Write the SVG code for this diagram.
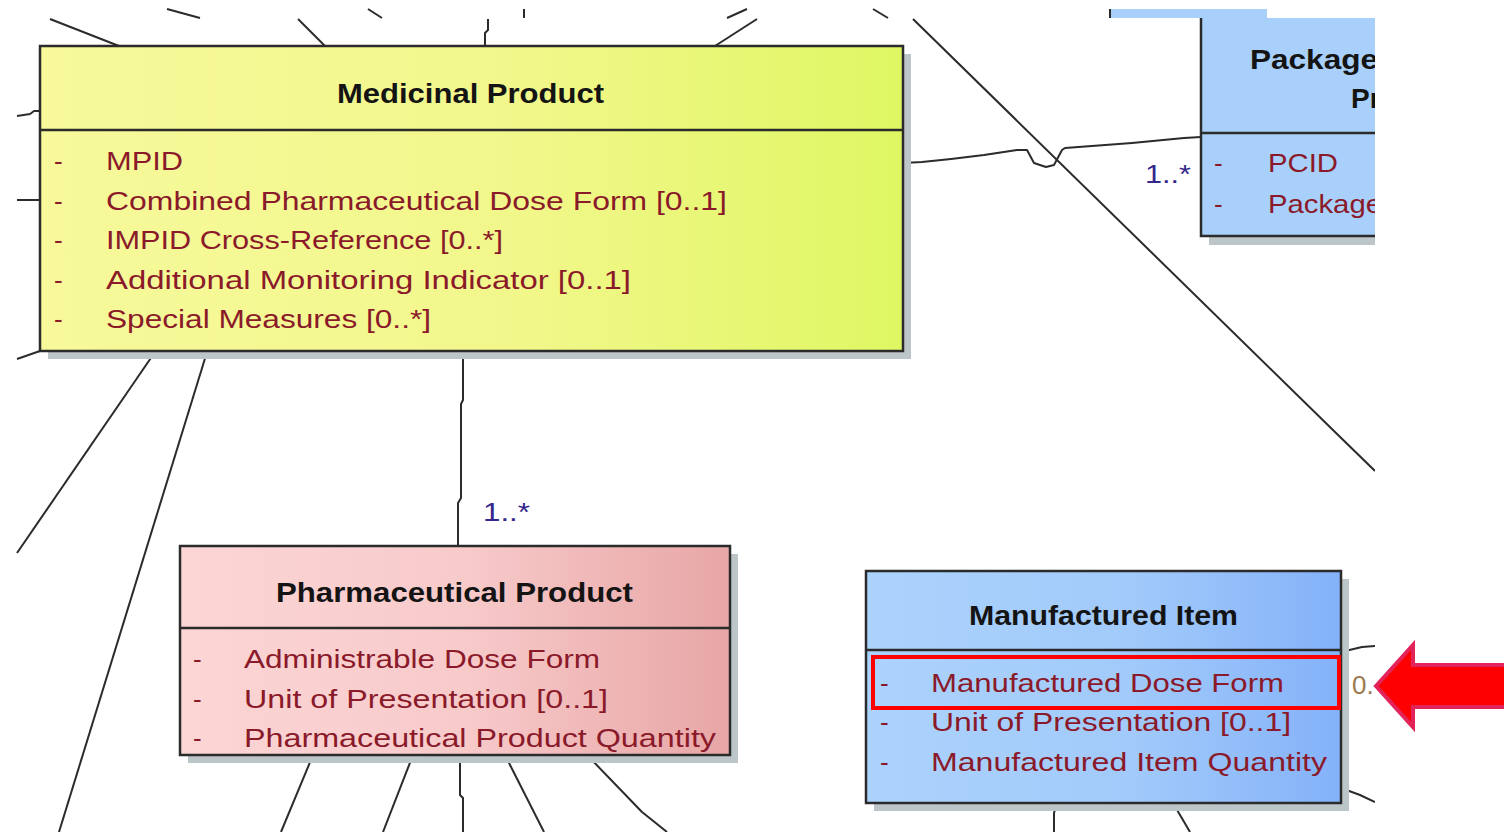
<svg xmlns="http://www.w3.org/2000/svg" width="1504" height="832" viewBox="0 0 1504 832">
<style>
.ln{fill:none;stroke:#2b2b2b;stroke-width:2;stroke-linejoin:round}
.box{stroke:#2b2b2b;stroke-width:2.5}
.div{stroke:#2b2b2b;stroke-width:2.5}
.sh{fill:#bcc5c8}
.ttl{font-family:"Liberation Sans",Arial,sans-serif;font-weight:bold;font-size:28px;fill:#141414}
.att{font-family:"Liberation Sans",Arial,sans-serif;font-size:26px;fill:#8a1a2a}
.mul{font-family:"Liberation Sans",Arial,sans-serif;font-size:26px;fill:#33278c}
</style>
<defs>
<linearGradient id="gY" x1="0" x2="1" y1="0" y2="0">
<stop offset="0" stop-color="#f7f99b"/><stop offset="0.55" stop-color="#f2f78b"/><stop offset="1" stop-color="#dff763"/>
</linearGradient>
<linearGradient id="gP" x1="0" x2="1" y1="0" y2="0">
<stop offset="0" stop-color="#fcd5d5"/><stop offset="0.5" stop-color="#f8cbcb"/><stop offset="1" stop-color="#e8a6a6"/>
</linearGradient>
<linearGradient id="gB" x1="0" x2="1" y1="0" y2="0">
<stop offset="0" stop-color="#acd3fc"/><stop offset="0.55" stop-color="#a2cafa"/><stop offset="1" stop-color="#84b2f9"/>
</linearGradient>
<clipPath id="cR"><rect x="0" y="18" width="1375" height="814"/></clipPath>
</defs>
<rect width="1504" height="832" fill="#ffffff"/>

<g id="top-strip">
<line class="ln" x1="167" y1="9" x2="200" y2="18"/>
<line class="ln" x1="368" y1="9" x2="382" y2="18"/>
<line class="ln" x1="524" y1="9" x2="524" y2="18"/>
<line class="ln" x1="747" y1="9" x2="727" y2="18"/>
<line class="ln" x1="873" y1="9" x2="888" y2="18"/>
<rect x="1110" y="9" width="157" height="9" fill="#a8d0fa"/>
<line x1="1110" y1="9" x2="1110" y2="18" stroke="#2b2b2b" stroke-width="2"/>
</g>

<g id="connectors" clip-path="url(#cR)">
<polyline class="ln" points="17,19 17,19"/>
<line class="ln" x1="50" y1="19" x2="119" y2="46"/>
<line class="ln" x1="298" y1="19" x2="325" y2="46"/>
<polyline class="ln" points="488,19 488,30 485,33 485,46"/>
<line class="ln" x1="757" y1="19" x2="715" y2="46"/>
<polyline class="ln" points="913,19 1335,432 1375,471"/>
<polyline class="ln" points="903,163 922,162 951,159 984,155 1017,150 1027,150 1034,163 1046,167 1054,165 1062,150 1065,148 1132,143 1184,138 1201,137"/>
<polyline class="ln" points="17,116 30,114 34,111 40,111"/>
<line class="ln" x1="17" y1="200" x2="40" y2="200"/>
<line class="ln" x1="40" y1="351" x2="17" y2="359"/>
<line class="ln" x1="155" y1="352" x2="17" y2="553"/>
<line class="ln" x1="207" y1="352" x2="59" y2="832"/>
<polyline class="ln" points="463,352 463,400 461,404 461,498 458,503 458,546"/>
<line class="ln" x1="313" y1="755" x2="281" y2="832"/>
<line class="ln" x1="413" y1="755" x2="383" y2="832"/>
<polyline class="ln" points="460,755 460,795 463,798 463,832"/>
<line class="ln" x1="505" y1="755" x2="544" y2="832"/>
<polyline class="ln" points="587,755 642,812 667,832"/>
<polyline class="ln" points="1057,803 1054,813 1054,832"/>
<line class="ln" x1="1173" y1="803" x2="1190" y2="832"/>
<polyline class="ln" points="1341,652 1362,647 1375,646"/>
<polyline class="ln" points="1341,788 1360,795 1375,802"/>
<text class="mul" x="483" y="521" textLength="47" lengthAdjust="spacingAndGlyphs">1..*</text>
<text class="mul" x="1145" y="183" textLength="46" lengthAdjust="spacingAndGlyphs">1..*</text>
<text x="1352" y="694" font-family="Liberation Sans, Arial, sans-serif" font-size="26" fill="#9a7a4e">0.</text>
</g>

<g id="medicinal-product">
<rect class="sh" x="48" y="54" width="863" height="305"/>
<rect class="box" x="40" y="46" width="863" height="305" fill="url(#gY)"/>
<line class="div" x1="40" y1="130" x2="903" y2="130"/>
<text class="ttl" x="337" y="103" textLength="267" lengthAdjust="spacingAndGlyphs">Medicinal Product</text>
<g class="att">
<text x="54" y="170">-</text><text x="106" y="170" textLength="77" lengthAdjust="spacingAndGlyphs">MPID</text>
<text x="54" y="210">-</text><text x="106" y="210" textLength="621" lengthAdjust="spacingAndGlyphs">Combined Pharmaceutical Dose Form [0..1]</text>
<text x="54" y="249">-</text><text x="106" y="249" textLength="397" lengthAdjust="spacingAndGlyphs">IMPID Cross-Reference [0..*]</text>
<text x="54" y="289">-</text><text x="106" y="289" textLength="525" lengthAdjust="spacingAndGlyphs">Additional Monitoring Indicator [0..1]</text>
<text x="54" y="328">-</text><text x="106" y="328" textLength="325" lengthAdjust="spacingAndGlyphs">Special Measures [0..*]</text>
</g>
</g>

<g id="pharmaceutical-product">
<rect class="sh" x="188" y="554" width="550" height="209"/>
<rect class="box" x="180" y="546" width="550" height="209" fill="url(#gP)"/>
<line class="div" x1="180" y1="628" x2="730" y2="628"/>
<text class="ttl" x="276" y="602" textLength="357" lengthAdjust="spacingAndGlyphs">Pharmaceutical Product</text>
<g class="att">
<text x="193" y="668">-</text><text x="244" y="668" textLength="356" lengthAdjust="spacingAndGlyphs">Administrable Dose Form</text>
<text x="193" y="708">-</text><text x="244" y="708" textLength="364" lengthAdjust="spacingAndGlyphs">Unit of Presentation [0..1]</text>
<text x="193" y="747">-</text><text x="244" y="747" textLength="472" lengthAdjust="spacingAndGlyphs">Pharmaceutical Product Quantity</text>
</g>
</g>

<g id="manufactured-item">
<rect class="sh" x="874" y="579" width="475" height="232"/>
<rect class="box" x="866" y="571" width="475" height="232" fill="url(#gB)"/>
<line class="div" x1="866" y1="650" x2="1341" y2="650"/>
<text class="ttl" x="969" y="625" textLength="269" lengthAdjust="spacingAndGlyphs">Manufactured Item</text>
<g class="att">
<text x="880" y="692">-</text><text x="931" y="692" textLength="353" lengthAdjust="spacingAndGlyphs">Manufactured Dose Form</text>
<text x="880" y="731">-</text><text x="931" y="731" textLength="360" lengthAdjust="spacingAndGlyphs">Unit of Presentation [0..1]</text>
<text x="880" y="771">-</text><text x="931" y="771" textLength="396" lengthAdjust="spacingAndGlyphs">Manufactured Item Quantity</text>
</g>
<rect x="873" y="657" width="466" height="51" fill="none" stroke="#ff0000" stroke-width="4"/>
</g>

<g id="packaged-product" clip-path="url(#cR)">
<rect class="sh" x="1209" y="18" width="200" height="227"/>
<rect class="box" x="1201" y="10" width="200" height="226" fill="#a8d0fa"/>
<line class="div" x1="1201" y1="133" x2="1375" y2="133"/>
<text class="ttl" x="1250" y="69" textLength="128" lengthAdjust="spacingAndGlyphs">Package</text>
<text class="ttl" x="1351" y="108">Pr</text>
<g class="att">
<text x="1214" y="172">-</text><text x="1268" y="172" textLength="70" lengthAdjust="spacingAndGlyphs">PCID</text>
<text x="1214" y="213">-</text><text x="1268" y="213" textLength="114" lengthAdjust="spacingAndGlyphs">Package</text>
</g>
</g>

<g id="red-arrow">
<polygon points="1376,686 1413,645 1413,665 1512,665 1512,707 1413,707 1413,727" fill="#ff0000" stroke="#e2245a" stroke-width="4" stroke-linejoin="miter"/>
</g>
</svg>
